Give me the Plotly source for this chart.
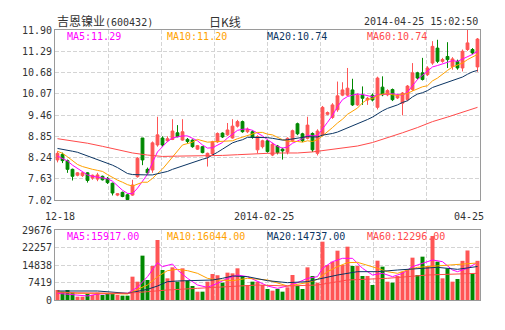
import plotly.graph_objects as go

# ---------------- data ----------------
stock_name = "吉恩镍业"
stock_code = "600432"
chart_kind = "日K线"
timestamp = "2014-04-25 15:02:50"
x_labels = ["12-18", "2014-02-25", "04-25"]

opens = [8.17, 8.33, 8.15, 7.90, 7.73, 7.72, 7.80, 7.65, 7.62, 7.70,
         7.64, 7.50, 7.16, 7.24, 7.17, 7.16, 7.69, 8.80, 7.90, 7.88,
         8.60, 8.80, 8.72, 8.76, 8.95, 8.74, 8.76, 8.74, 8.48, 8.55,
         8.26, 8.34, 8.69, 8.94, 8.89, 8.80, 9.14, 9.27, 8.98, 8.98,
         8.46, 8.55, 8.72, 8.31, 8.57, 8.48, 8.40, 8.72, 9.21, 8.92,
         8.79, 8.93, 8.36, 8.89, 9.48, 9.39, 9.61, 10.03, 10.03, 10.18,
         9.75, 10.03, 9.89, 10.03, 9.68, 10.26, 10.04, 10.19, 9.95, 9.80,
         9.90, 10.19, 10.67, 10.67, 10.62, 10.95, 11.38, 11.00, 11.14, 10.85,
         11.00, 10.81, 11.34, 11.34, 10.84]
highs = [8.42, 8.38, 8.18, 7.92, 7.82, 7.82, 7.82, 7.75, 7.80, 7.72,
         7.68, 7.52, 7.22, 7.26, 7.20, 7.60, 8.25, 8.80, 7.95, 8.70,
         9.41, 8.85, 8.85, 9.34, 9.17, 9.34, 8.80, 8.76, 8.60, 8.57,
         8.38, 8.72, 8.96, 8.96, 9.23, 9.34, 9.32, 9.30, 9.10, 9.02,
         8.88, 8.75, 8.75, 8.66, 8.60, 8.52, 8.82, 9.04, 9.24, 8.95,
         9.41, 8.96, 9.05, 9.72, 9.56, 9.80, 10.42, 10.40, 10.81, 10.50,
         10.08, 10.28, 9.98, 10.08, 10.56, 10.57, 10.20, 10.22, 10.06, 10.12,
         10.32, 10.95, 10.70, 11.10, 10.86, 11.58, 11.62, 11.10, 11.55, 11.12,
         11.05, 11.34, 11.90, 11.38, 11.67]
lows = [8.10, 8.08, 7.80, 7.58, 7.70, 7.68, 7.52, 7.60, 7.56, 7.58,
        7.48, 7.15, 7.13, 7.10, 7.02, 7.14, 7.66, 8.02, 7.75, 7.80,
        8.55, 8.55, 8.68, 8.74, 8.82, 8.72, 8.64, 8.52, 8.46, 8.36,
        7.98, 8.30, 8.66, 8.80, 8.86, 8.78, 9.10, 8.95, 8.94, 8.78,
        8.36, 8.50, 8.38, 8.28, 8.33, 8.18, 8.33, 8.68, 8.88, 8.68,
        8.76, 8.40, 8.30, 8.85, 9.45, 9.35, 9.55, 10.00, 10.00, 9.72,
        9.72, 9.75, 9.75, 9.85, 9.62, 10.00, 10.00, 9.86, 9.92, 9.45,
        9.86, 10.15, 10.48, 10.45, 10.58, 10.90, 10.95, 10.96, 10.81, 10.76,
        10.76, 10.71, 11.30, 11.20, 10.70]
closes = [8.36, 8.15, 7.90, 7.70, 7.80, 7.80, 7.58, 7.73, 7.74, 7.60,
          7.52, 7.22, 7.20, 7.12, 7.03, 7.45, 8.22, 8.17, 7.80, 8.66,
          8.89, 8.60, 8.78, 9.00, 8.84, 8.98, 8.70, 8.55, 8.58, 8.38,
          8.36, 8.69, 8.93, 8.83, 9.03, 9.14, 9.27, 8.98, 9.05, 8.82,
          8.84, 8.72, 8.41, 8.62, 8.38, 8.43, 8.79, 9.01, 8.92, 8.72,
          9.17, 8.46, 9.00, 9.68, 9.53, 9.75, 10.01, 10.18, 10.23, 9.75,
          10.03, 9.94, 9.94, 9.89, 10.52, 10.04, 10.16, 9.90, 10.02, 10.09,
          10.29, 10.67, 10.52, 10.48, 10.81, 11.43, 11.00, 11.05, 11.05, 11.07,
          10.81, 11.29, 11.53, 11.24, 11.64]

volumes = [4240, 3530, 4240, 3110, 1410, 1410, 2540, 2120, 3110, 2120,
           2820, 2820, 2120, 1840, 1840, 9890, 7770, 18800, 8480, 14420,
           25440, 12720, 9190, 13850, 7770, 13430, 8200, 5940, 3530, 3530,
           7770, 11020, 10500, 7350, 11590, 11300, 13430, 10180, 6360, 7770,
           7770, 6360, 4660, 3960, 4660, 3530, 5370, 10600, 5940, 4660,
           13850, 10180, 7350, 24730, 14840, 16250, 20910, 14840, 22610, 14420,
           14420, 10180, 10180, 6360, 16670, 14130, 7770, 7350, 10180, 12010,
           13000, 17950, 10600, 18370, 14420, 27140, 16250, 9190, 13430, 7770,
           8900, 16600, 21000, 11300, 16600]

ma5 = [8.28, 8.22, 8.14, 8.02, 7.92, 7.84, 7.74, 7.70, 7.68, 7.67,
       7.63, 7.56, 7.44, 7.30, 7.21, 7.20, 7.36, 7.57, 7.76, 8.10,
       8.40, 8.55, 8.70, 8.80, 8.84, 8.86, 8.86, 8.80, 8.72, 8.60,
       8.51, 8.52, 8.60, 8.67, 8.80, 8.92, 9.02, 9.05, 9.06, 9.02,
       8.95, 8.86, 8.75, 8.66, 8.56, 8.51, 8.54, 8.65, 8.72, 8.78,
       8.88, 8.86, 8.87, 9.05, 9.25, 9.45, 9.70, 9.90, 9.99, 10.03,
       10.06, 10.05, 10.01, 9.98, 10.04, 10.05, 10.08, 10.07, 10.05, 10.03,
       10.12, 10.30, 10.48, 10.60, 10.72, 10.84, 10.88, 10.92, 10.98, 11.02,
       11.00, 11.06, 11.14, 11.20, 11.29]
ma10 = [8.42, 8.36, 8.26, 8.14, 8.04, 7.98, 7.93, 7.90, 7.87, 7.84,
        7.75, 7.66, 7.59, 7.53, 7.46, 7.42, 7.48, 7.53, 7.53, 7.64,
        7.78, 7.91, 8.08, 8.26, 8.44, 8.60, 8.64, 8.68, 8.76, 8.73,
        8.68, 8.69, 8.70, 8.69, 8.71, 8.72, 8.78, 8.82, 8.87, 8.91,
        8.96, 8.96, 8.91, 8.89, 8.82, 8.75, 8.71, 8.71, 8.70, 8.68,
        8.72, 8.70, 8.75, 8.86, 8.97, 9.10, 9.23, 9.34, 9.48, 9.58,
        9.66, 9.81, 9.91, 9.93, 10.02, 10.06, 10.07, 10.04, 10.02, 10.05,
        10.08, 10.15, 10.21, 10.27, 10.30, 10.44, 10.52, 10.64, 10.74, 10.84,
        10.89, 10.95, 11.05, 11.13, 11.20]
ma20 = [8.50, 8.48, 8.45, 8.42, 8.39, 8.34, 8.29, 8.24, 8.19, 8.14,
        8.08, 8.02, 7.95, 7.87, 7.78, 7.75, 7.74, 7.74, 7.74, 7.74,
        7.77, 7.79, 7.84, 7.90, 7.95, 8.01, 8.06, 8.11, 8.15, 8.19,
        8.23, 8.30, 8.39, 8.48, 8.58, 8.66, 8.71, 8.75, 8.82, 8.82,
        8.82, 8.83, 8.81, 8.79, 8.77, 8.74, 8.75, 8.77, 8.79, 8.80,
        8.84, 8.83, 8.83, 8.88, 8.90, 8.93, 8.97, 9.03, 9.09, 9.13,
        9.19, 9.26, 9.33, 9.40, 9.50, 9.58, 9.65, 9.69, 9.75, 9.82,
        9.87, 9.98, 10.06, 10.10, 10.16, 10.25, 10.30, 10.34, 10.38, 10.45,
        10.49, 10.55, 10.63, 10.70, 10.74]
ma60_idx = [0, 3, 6, 9, 12, 15, 18, 21, 24, 27, 30, 33, 36, 39, 42, 45, 48,
            51, 54, 57, 60, 63, 66, 69, 72, 75, 78, 81, 84]
ma60 = [8.78, 8.72, 8.65, 8.56, 8.47, 8.37, 8.31, 8.27, 8.28, 8.28, 8.28,
        8.30, 8.32, 8.35, 8.36, 8.37, 8.37, 8.40, 8.45, 8.51, 8.57, 8.67,
        8.80, 8.95, 9.10, 9.27, 9.40, 9.54, 9.68]

vma5_idx = [0, 4, 6, 8, 11, 14, 16, 18, 20, 21, 23, 24, 26, 28, 30, 32, 34,
            36, 38, 40, 42, 44, 46, 48, 50, 52, 53, 55, 57, 59, 61, 63, 65,
            67, 69, 71, 73, 75, 77, 79, 80, 82, 84]
vma5 = [2830, 2120, 1700, 2540, 2540, 2830, 5370, 9890, 15830, 14130, 15260,
        12720, 9190, 6360, 5370, 7070, 9190, 10600, 9890, 7770, 5940, 4950,
        5940, 7350, 9190, 9890, 13430, 16250, 17670, 17670, 13430, 10600,
        11310, 9890, 11310, 14130, 15550, 16960, 16250, 12720, 12010, 13430,
        15900]
vma10_idx = [0, 4, 8, 14, 16, 18, 20, 22, 24, 26, 28, 30, 32, 35, 38, 42, 46,
             50, 52, 54, 56, 58, 60, 62, 64, 66, 68, 70, 72, 74, 76, 78, 80,
             82, 84]
vma10 = [3530, 2830, 2830, 2540, 4520, 6360, 9890, 12440, 13000, 12440,
         11310, 9190, 8480, 8200, 9190, 8480, 5940, 7350, 8760, 12010, 14130,
         15830, 15970, 14840, 13430, 12010, 11310, 12720, 13850, 14130, 14420,
         14840, 14840, 15300, 15700]
vma20_idx = [0, 8, 14, 16, 18, 20, 22, 24, 26, 29, 31, 33, 35, 38, 42, 46,
             50, 52, 56, 60, 64, 68, 72, 76, 80, 84]
vma20 = [3820, 3820, 2830, 3530, 4520, 5940, 7770, 8060, 8200, 8480, 8480,
         9190, 10180, 9890, 8200, 7350, 7770, 8760, 10600, 12010, 12010,
         12720, 13430, 13850, 13000, 14200]
vma60_idx = [0, 14, 18, 22, 28, 35, 40, 46, 52, 58, 66, 74, 84]
vma60 = [3110, 2830, 3530, 4240, 4950, 5940, 6360, 5940, 6360, 8480, 9190,
         10600, 11310]

price_ticks = [7.02, 7.63, 8.24, 8.85, 9.46, 10.07, 10.68, 11.29, 11.90]
vol_ticks = [0, 7419, 14838, 22257, 29676]

ma_names = ["MA5", "MA10", "MA20", "MA60"]
ma_price_last = ["11.29", "11.20", "10.74", "10.74"]
ma_vol_last = ["15917.00", "16044.00", "14737.00", "12296.00"]

# ---------------- style ----------------
UP = "#FF5555"
DOWN = "#008800"
MA_COLORS = ["#FF00FF", "#FFA200", "#0B3563", "#FF4A4A"]
GRID = "#D4D4D4"
FRAME = "#9A9A9A"
TXT = "#333333"
MONO = "DejaVu Sans Mono, Noto Sans CJK SC"

n = len(closes)
idx = list(range(n))
vol_colors = [UP if c >= o else DOWN for o, c in zip(opens, closes)]

fig = go.Figure()

fig.add_trace(go.Candlestick(
    x=idx, open=opens, high=highs, low=lows, close=closes,
    increasing=dict(line=dict(color=UP, width=1), fillcolor=UP),
    decreasing=dict(line=dict(color=DOWN, width=1), fillcolor=DOWN),
    whiskerwidth=0, xaxis="x", yaxis="y", hoverinfo="skip", showlegend=False,
))

for xs, ys, col in [(idx, ma5, MA_COLORS[0]), (idx, ma10, MA_COLORS[1]),
                    (idx, ma20, MA_COLORS[2]), (ma60_idx, ma60, MA_COLORS[3])]:
    fig.add_trace(go.Scatter(x=xs, y=ys, mode="lines", line=dict(color=col, width=1),
                             xaxis="x", yaxis="y", hoverinfo="skip", showlegend=False))

fig.add_trace(go.Bar(x=idx, y=volumes, marker=dict(color=vol_colors, line=dict(width=0)),
                     xaxis="x2", yaxis="y2", hoverinfo="skip", showlegend=False))

for xs, ys, col in [(vma5_idx, vma5, MA_COLORS[0]), (vma10_idx, vma10, MA_COLORS[1]),
                    (vma20_idx, vma20, MA_COLORS[2]), (vma60_idx, vma60, MA_COLORS[3])]:
    fig.add_trace(go.Scatter(x=xs, y=ys, mode="lines", line=dict(color=col, width=1),
                             xaxis="x2", yaxis="y2", hoverinfo="skip", showlegend=False))

W, H = 505, 330
ML, MR, MT, MB = 55, 25, 30, 30
PH = H - MT - MB  # 270


def py(pix):
    """pixel row (from top of page) -> paper y"""
    return (H - MB - pix) / PH


def px(pix):
    return (pix - ML) / (W - ML - MR)


xgrid = dict(range=[-0.5, n - 0.5], tickmode="linear", tick0=-0.5, dtick=n / 8,
             showticklabels=False, ticks="", showgrid=True, gridcolor=GRID,
             griddash="4px,2px", gridwidth=1, zeroline=False, showline=True,
             mirror=True, linecolor=FRAME, linewidth=1, fixedrange=True)

yfont = dict(family=MONO, size=10, color=TXT)

fig.update_layout(
    width=W, height=H,
    margin=dict(l=ML, r=MR, t=MT, b=MB, pad=0),
    paper_bgcolor="white", plot_bgcolor="white",
    showlegend=False, bargap=0.2, boxgap=0.2,
    xaxis=dict(domain=[0, 1], anchor="y", rangeslider=dict(visible=False), **xgrid),
    xaxis2=dict(domain=[0, 1], anchor="y2", **xgrid),
    yaxis=dict(domain=[py(200), 1], range=[price_ticks[0], price_ticks[-1]],
               tickmode="array", tickvals=price_ticks,
               ticktext=[f"{v:.2f}" for v in price_ticks],
               tickfont=yfont, ticks="", showgrid=True, gridcolor=GRID,
               griddash="4px,2px", zeroline=False, showline=True, mirror=True,
               linecolor=FRAME, linewidth=1, fixedrange=True),
    yaxis2=dict(domain=[0, py(230)], range=[vol_ticks[0], vol_ticks[-1]],
                tickmode="array", tickvals=vol_ticks,
                ticktext=[str(v) for v in vol_ticks],
                tickfont=yfont, ticks="", showgrid=True, gridcolor=GRID,
                griddash="4px,2px", zeroline=False, showline=True, mirror=True,
                linecolor=FRAME, linewidth=1, fixedrange=True),
)

ann = []
# header
ann.append(dict(text=f'<span style="font-size:12px">{stock_name}</span>({stock_code})',
                x=0, y=py(21.5), xref="paper", yref="paper", xanchor="left",
                yanchor="middle", showarrow=False, font=dict(family=MONO, size=10, color=TXT)))
ann.append(dict(text=chart_kind, x=px(225), y=py(21.5), xref="paper", yref="paper",
                xanchor="center", yanchor="middle", showarrow=False,
                font=dict(family="Noto Sans CJK SC", size=12, color=TXT)))
ann.append(dict(text=timestamp, x=1, y=py(21.5), xref="paper", yref="paper",
                xanchor="right", yanchor="middle", showarrow=False,
                font=dict(family=MONO, size=10, color=TXT)))
# x labels
for lab, cx in zip(x_labels, [60, 264, 469]):
    ann.append(dict(text=lab, x=px(cx), y=py(216.5), xref="paper", yref="paper",
                    xanchor="center", yanchor="middle", showarrow=False,
                    font=dict(family=MONO, size=10, color=TXT)))
# MA legends
for k, (nm, col) in enumerate(zip(ma_names, MA_COLORS)):
    lx = px(65 + 100 * k)
    ann.append(dict(text=f"{nm}:{ma_price_last[k]}", x=lx, y=py(36.7), xref="paper",
                    yref="paper", xanchor="left", yanchor="middle", showarrow=False,
                    font=dict(family=MONO, size=10, color=col)))
    ann.append(dict(text=f"{nm}:{ma_vol_last[k]}", x=lx, y=py(236.7), xref="paper",
                    yref="paper", xanchor="left", yanchor="middle", showarrow=False,
                    font=dict(family=MONO, size=10, color=col)))
fig.update_layout(annotations=ann)

fig.write_html("out.html", config=dict(displayModeBar=False, staticPlot=True))
